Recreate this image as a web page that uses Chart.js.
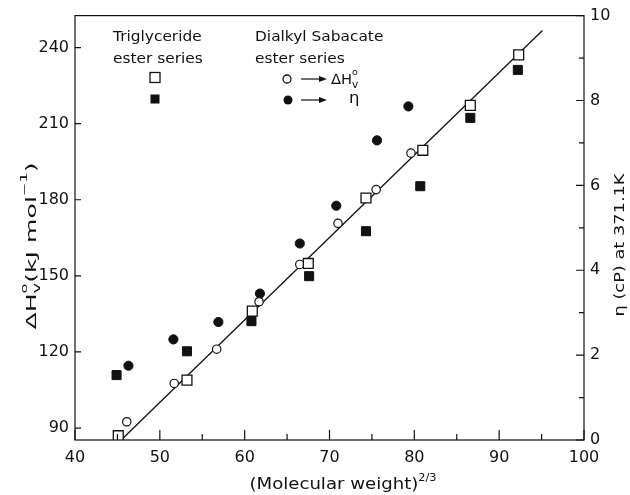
<!DOCTYPE html>
<html>
<head>
<meta charset="utf-8">
<script src="https://cdn.jsdelivr.net/npm/chart.js@4.4.0/dist/chart.umd.min.js"></script>
<style>
  html, body { margin: 0; padding: 0; background: #fff; }
</style>
</head>
<body>
<canvas id="chart" width="630" height="495"></canvas>
<script>
// x values are (molecular weight)^(2/3)
// Triglyceride ester series
const trigX = [45.1, 53.2, 60.9, 67.5, 74.3, 81.0, 86.6, 92.3];
const trigDH = [87.0, 108.9, 136.1, 154.9, 180.7, 199.5, 217.2, 237.1];
const trigEtaX = [44.9, 53.2, 60.8, 67.6, 74.3, 80.7, 86.6, 92.2];
const trigEta = [1.53, 2.09, 2.80, 3.86, 4.92, 5.98, 7.59, 8.72];

// Dialkyl sabacate ester series
const sabX = [46.1, 51.7, 56.7, 61.7, 66.5, 71.0, 75.5, 79.6];
const sabDH = [92.5, 107.6, 121.1, 139.8, 154.5, 170.7, 184.0, 198.4];
const sabEtaX = [46.3, 51.6, 56.9, 61.8, 66.5, 70.8, 75.6, 79.3];
const sabEta = [1.75, 2.37, 2.78, 3.45, 4.63, 5.52, 7.06, 7.86];

// straight line through the ΔHv points
const fitX = [45.5, 95.1];
const fitY = [85.5, 246.7];

// axes
const xTicks = [40, 50, 60, 70, 80, 90, 100];
const xMinor = [45, 55, 65, 75, 85, 95];
const leftTicks = [90, 120, 150, 180, 210, 240];
const rightTicks = [0, 2, 4, 6, 8, 10];
const rightMinor = [1, 3, 5, 7, 9];

const FONT = '"DejaVu Sans", sans-serif';
const INK = '#111';

const pts = (xs, ys) => xs.map((x, i) => ({ x: x, y: ys[i] }));

function setFont(ctx, size) {
    ctx.font = size + 'px ' + FONT;
}

// runs of text with super/subscripts, "stack" runs do not advance the pen
function runsWidth(ctx, runs) {
    let w = 0;
    for (const r of runs) {
        setFont(ctx, r.size);
        if (!r.stack) w += ctx.measureText(r.t).width;
    }
    return w;
}

function drawRuns(ctx, runs, x, y) {
    for (const r of runs) {
        setFont(ctx, r.size);
        ctx.fillText(r.t, x, y + (r.dy || 0));
        if (!r.stack) x += ctx.measureText(r.t).width;
    }
}

// centred label, stretched along its length to fit len px
function drawLabel(ctx, runs, cx, cy, len, rot) {
    const w = runsWidth(ctx, runs);
    ctx.save();
    ctx.translate(cx, cy);
    ctx.rotate(rot);
    ctx.scale(len / w, 1);
    drawRuns(ctx, runs, -w / 2, 0);
    ctx.restore();
}

function drawText(ctx, runs, x, y, sx) {
    ctx.save();
    ctx.translate(x, y);
    ctx.scale(sx, 1);
    drawRuns(ctx, runs, 0, 0);
    ctx.restore();
}

function arrow(ctx, x1, x2, y) {
    ctx.beginPath();
    ctx.moveTo(x1, y);
    ctx.lineTo(x2 - 5, y);
    ctx.stroke();
    ctx.beginPath();
    ctx.moveTo(x2, y);
    ctx.lineTo(x2 - 8, y - 3);
    ctx.lineTo(x2 - 8, y + 3);
    ctx.closePath();
    ctx.fill();
}

// frame, inward ticks, axis titles and the key
const decorations = {
    id: 'decorations',
    afterDraw(chart) {
        const { ctx, chartArea: a, scales } = chart;
        ctx.save();
        ctx.strokeStyle = INK;
        ctx.fillStyle = INK;
        ctx.lineWidth = 1.2;
        ctx.strokeRect(a.left, a.top, a.right - a.left, a.bottom - a.top);

        ctx.beginPath();
        xTicks.forEach(v => {
            const p = scales.x.getPixelForValue(v);
            ctx.moveTo(p, a.bottom); ctx.lineTo(p, a.bottom - 10);
        });
        xMinor.forEach(v => {
            const p = scales.x.getPixelForValue(v);
            ctx.moveTo(p, a.bottom); ctx.lineTo(p, a.bottom - 6);
        });
        leftTicks.forEach(v => {
            const p = scales.y.getPixelForValue(v);
            ctx.moveTo(a.left, p); ctx.lineTo(a.left + 6, p);
        });
        rightTicks.forEach(v => {
            const p = scales.y1.getPixelForValue(v);
            ctx.moveTo(a.right, p); ctx.lineTo(a.right - 8, p);
        });
        rightMinor.forEach(v => {
            const p = scales.y1.getPixelForValue(v);
            ctx.moveTo(a.right, p); ctx.lineTo(a.right - 5, p);
        });
        ctx.stroke();

        ctx.textBaseline = 'alphabetic';
        ctx.textAlign = 'left';

        // axis titles
        drawLabel(ctx, [
            { t: '(Molecular weight)', size: 16 },
            { t: '2/3', size: 10, dy: -8 }
        ], 343, 489, 187, 0);

        drawLabel(ctx, [
            { t: 'ΔH', size: 14 },
            { t: 'o', size: 9, dy: -9, stack: true },
            { t: 'v', size: 10, dy: 4 },
            { t: '(kJ mol', size: 14 },
            { t: '−1', size: 9, dy: -9 },
            { t: ')', size: 14 }
        ], 36, 246, 167, -Math.PI / 2);

        drawLabel(ctx, [
            { t: 'η (cP) at 371.1K', size: 14 }
        ], 624, 245, 143, -Math.PI / 2);

        // key
        const sx = 1.1;
        drawText(ctx, [{ t: 'Triglyceride', size: 14 }], 113, 41, sx);
        drawText(ctx, [{ t: 'ester series', size: 14 }], 113, 63, sx);
        drawText(ctx, [{ t: 'Dialkyl Sabacate', size: 14 }], 255, 41, sx);
        drawText(ctx, [{ t: 'ester series', size: 14 }], 255, 63, sx);

        ctx.lineWidth = 1.3;
        ctx.fillStyle = '#fff';
        ctx.fillRect(150, 72.5, 10, 10);
        ctx.strokeRect(150, 72.5, 10, 10);
        ctx.fillStyle = INK;
        ctx.fillRect(150.5, 94.5, 9, 9);

        ctx.beginPath();
        ctx.arc(287, 79, 4, 0, Math.PI * 2);
        ctx.fillStyle = '#fff';
        ctx.fill();
        ctx.stroke();
        ctx.fillStyle = INK;
        ctx.beginPath();
        ctx.arc(288, 100, 4.5, 0, Math.PI * 2);
        ctx.fill();

        ctx.lineWidth = 1.2;
        arrow(ctx, 301, 327, 79);
        arrow(ctx, 301, 327, 100);

        drawText(ctx, [
            { t: 'ΔH', size: 14 },
            { t: 'o', size: 9, dy: -9, stack: true },
            { t: 'v', size: 10, dy: 4 }
        ], 331, 84, 1.05);
        drawText(ctx, [{ t: 'η', size: 15 }], 349, 103, 1.1);

        ctx.restore();
    }
};

const tickFont = { family: FONT, size: 16 };

new Chart(document.getElementById('chart'), {
    type: 'scatter',
    data: {
        datasets: [
            {
                label: 'Triglyceride ΔHv',
                data: pts(trigX, trigDH),
                yAxisID: 'y',
                pointStyle: 'rect',
                pointRadius: 7,
                backgroundColor: '#fff',
                borderColor: INK,
                borderWidth: 1.3
            },
            {
                label: 'Triglyceride η',
                data: pts(trigEtaX, trigEta),
                yAxisID: 'y1',
                pointStyle: 'rect',
                pointRadius: 6.4,
                backgroundColor: INK,
                borderColor: INK,
                borderWidth: 1
            },
            {
                label: 'Dialkyl sabacate ΔHv',
                data: pts(sabX, sabDH),
                yAxisID: 'y',
                pointStyle: 'circle',
                pointRadius: 4.2,
                backgroundColor: '#fff',
                borderColor: INK,
                borderWidth: 1.2
            },
            {
                label: 'Dialkyl sabacate η',
                data: pts(sabEtaX, sabEta),
                yAxisID: 'y1',
                pointStyle: 'circle',
                pointRadius: 4.6,
                backgroundColor: INK,
                borderColor: INK,
                borderWidth: 1
            },
            {
                label: 'fit',
                data: pts(fitX, fitY),
                yAxisID: 'y',
                showLine: true,
                pointRadius: 0,
                borderColor: INK,
                borderWidth: 1.3
            }
        ]
    },
    options: {
        responsive: false,
        animation: false,
        layout: { padding: { top: 15, left: 0, right: 0, bottom: 0 } },
        plugins: {
            legend: { display: false },
            tooltip: { enabled: false }
        },
        scales: {
            x: {
                type: 'linear',
                position: 'bottom',
                min: 40,
                max: 100,
                grid: { display: false, drawTicks: false },
                border: { display: false },
                ticks: { font: tickFont, color: INK, padding: 8 },
                afterBuildTicks: s => { s.ticks = xTicks.map(v => ({ value: v })); },
                afterFit: s => { s.height = 55; }
            },
            y: {
                type: 'linear',
                position: 'left',
                min: 85.3,
                max: 252.6,
                grid: { display: false, drawTicks: false },
                border: { display: false },
                ticks: { font: tickFont, color: INK, padding: 6 },
                afterBuildTicks: s => { s.ticks = leftTicks.map(v => ({ value: v })); },
                afterFit: s => { s.width = 75; }
            },
            y1: {
                type: 'linear',
                position: 'right',
                min: 0,
                max: 10,
                grid: { display: false, drawTicks: false },
                border: { display: false },
                ticks: { font: tickFont, color: INK, padding: 6 },
                afterBuildTicks: s => { s.ticks = rightTicks.map(v => ({ value: v })); },
                afterFit: s => { s.width = 46; }
            }
        }
    },
    plugins: [decorations]
});
</script>
</body>
</html>
